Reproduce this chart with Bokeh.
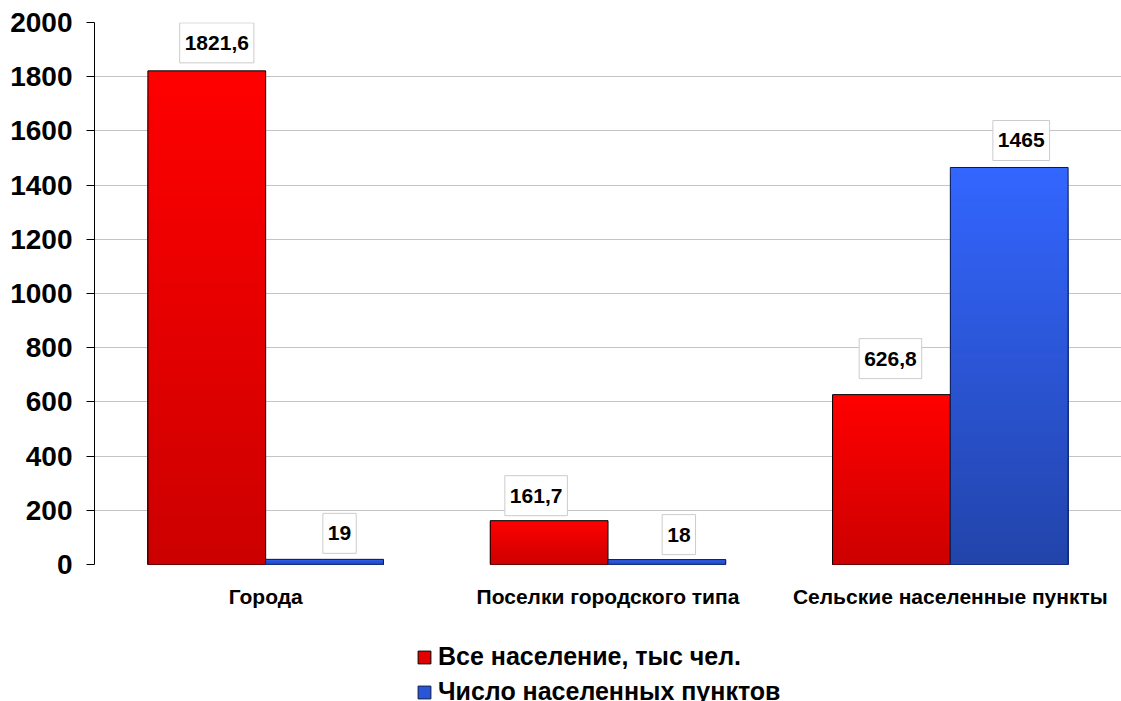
import numpy as np
from bokeh.plotting import figure
from bokeh.layouts import column
from bokeh.models import (Range1d, FixedTicker, Label, Legend, LegendItem)
from bokeh.embed import file_html
from bokeh.resources import INLINE

# ---- data ----
categories = ["Города", "Поселки городского типа", "Сельские населенные пункты"]
population = [1821.6, 161.7, 626.8]          # Все население, тыс чел.
settlements = [19, 18, 1465]                  # Число населенных пунктов
series_names = ["Все население, тыс чел.", "Число населенных пунктов"]
y_ticks = [0, 200, 400, 600, 800, 1000, 1200, 1400, 1600, 1800, 2000]

# ---- style ----
FONT = "Liberation Sans"
red_top, red_bottom = (255, 0, 0), (204, 0, 0)
blue_top, blue_bottom = (51, 102, 255), (34, 68, 170)
red_line, blue_line = "black", "#0a1a4a"
bar_w = 0.344
# label offsets in screen pixels (dx, dy) for population and settlements labels
pop_offsets = [(10, 28), (-13, 25), (-1, 36)]
set_offsets = [(15, 26), (12, 25), (12, 27)]

W = 1121
p = figure(width=W, height=630, output_backend="svg", toolbar_location=None,
           x_range=Range1d(0, 3), y_range=Range1d(0, 2000),
           min_border_left=94, min_border_right=0, min_border_top=22, min_border_bottom=66)
p.outline_line_color = None
p.background_fill_color = "white"
p.border_fill_color = "white"

# axes
p.yaxis.ticker = FixedTicker(ticks=y_ticks)
p.yaxis.major_label_text_font = FONT
p.yaxis.major_label_text_font_size = "28px"
p.yaxis.major_label_text_font_style = "bold"
p.yaxis.major_label_text_color = "black"
p.yaxis.axis_line_color = "black"
p.yaxis.major_tick_line_color = "black"
p.yaxis.major_tick_out = 8
p.yaxis.major_tick_in = 0
p.yaxis.minor_tick_line_color = None
p.yaxis.major_label_standoff = 14

centers = np.arange(len(categories)) + 0.5
p.xaxis.ticker = FixedTicker(ticks=[float(c) for c in centers])
p.xaxis.major_label_overrides = {float(c): lab for c, lab in zip(centers, categories)}
p.xaxis.major_label_text_font = FONT
p.xaxis.major_label_text_font_size = "21px"
p.xaxis.major_label_text_font_style = "bold"
p.xaxis.major_label_text_color = "black"
p.xaxis.axis_line_color = None
p.xaxis.major_tick_line_color = None
p.xaxis.minor_tick_line_color = None
p.xaxis.major_label_standoff = 14

p.xgrid.grid_line_color = None
p.ygrid.grid_line_color = "#c4c4c4"
p.ygrid.ticker = FixedTicker(ticks=y_ticks)


def hexc(c):
    return "#%02x%02x%02x" % c


def draw_series(values, lefts, top_c, bot_c, line_c, n=60):
    values = np.asarray(values, dtype=float)
    lefts = np.asarray(lefts, dtype=float)
    L, R, B, T, C = [], [], [], [], []
    # nested slices from the full bar down to the smallest: no seams between bands
    for k in range(n - 1, -1, -1):
        t = (k + 0.5) / n
        col = hexc(tuple(int(round(b + (a - b) * t)) for a, b in zip(top_c, bot_c)))
        for v, l in zip(values, lefts):
            L.append(float(l)); R.append(float(l + bar_w))
            B.append(0.0); T.append(float(v * (k + 1) / n))
            C.append(col)
    p.quad(left=L, right=R, bottom=B, top=T, fill_color=C, line_color=None)
    p.quad(left=lefts, right=lefts + bar_w, bottom=0, top=values,
           fill_color=None, line_color=line_c, line_width=1)


draw_series(population, centers - bar_w, red_top, red_bottom, red_line)
draw_series(settlements, centers, blue_top, blue_bottom, blue_line)

# data labels
def fmt(v):
    return ("%g" % v).replace(".", ",")

for vals, xs, offs in [(population, centers - bar_w / 2, pop_offsets),
                       (settlements, centers + bar_w / 2, set_offsets)]:
    for v, x, (dx, dy) in zip(vals, xs, offs):
        p.add_layout(Label(x=float(x), y=float(v), text=fmt(v), x_offset=dx, y_offset=dy,
                           text_align="center", text_baseline="middle",
                           text_font=FONT, text_font_size="21px", text_font_style="bold",
                           text_color="black",
                           background_fill_color="white", border_line_color="#cccccc",
                           border_line_width=1, padding=dict(x=5, y=13)))

# ---- legend strip below the chart ----
q = figure(width=W, height=71, output_backend="svg", toolbar_location=None,
           x_range=Range1d(0, 1), y_range=Range1d(0, 1),
           x_axis_location=None, y_axis_location=None,
           min_border_left=0, min_border_right=0, min_border_top=0, min_border_bottom=0)
q.outline_line_color = None
q.xgrid.grid_line_color = None
q.ygrid.grid_line_color = None
mid_red = hexc(tuple((a + b) // 2 for a, b in zip(red_top, red_bottom)))
mid_blue = hexc(tuple((a + b) // 2 for a, b in zip(blue_top, blue_bottom)))
# legend swatches only (placed outside the strip's visible range)
lr1 = q.quad(left=[0], right=[1], bottom=[5], top=[6], fill_color=mid_red, line_color=red_line)
lr2 = q.quad(left=[0], right=[1], bottom=[5], top=[6], fill_color=mid_blue, line_color=blue_line)

legend = Legend(items=[LegendItem(label=series_names[0], renderers=[lr1]),
                       LegendItem(label=series_names[1], renderers=[lr2])],
                location=(322, -5), orientation="vertical",
                label_text_font=FONT, label_text_font_size="25px",
                label_text_font_style="bold", label_text_color="black",
                glyph_width=16, glyph_height=16, label_standoff=6, spacing=6,
                padding=0, margin=0, border_line_color=None, background_fill_alpha=0)
q.add_layout(legend, "center")

layout = column(p, q, spacing=0)
open("out.html", "w").write(file_html(layout, INLINE))
